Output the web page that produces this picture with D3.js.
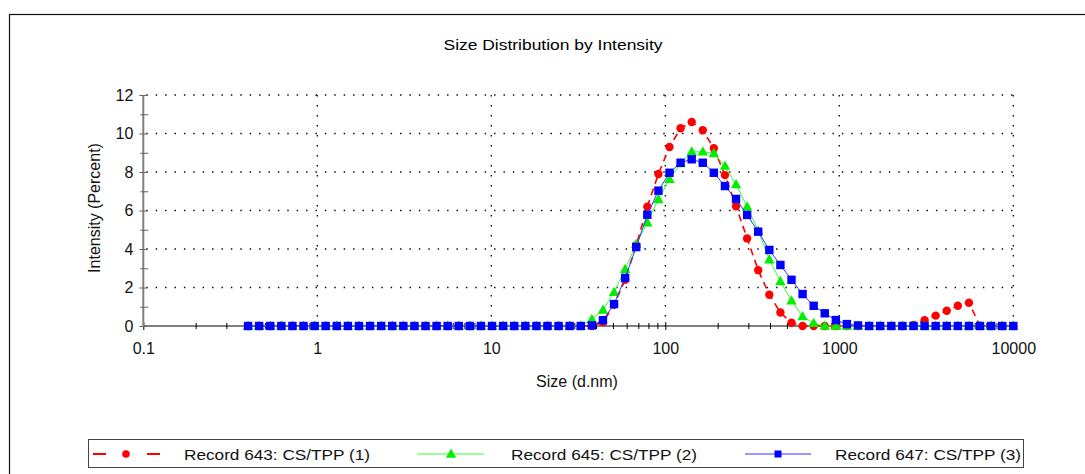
<!DOCTYPE html>
<html>
<head>
<meta charset="utf-8">
<script src="https://cdn.jsdelivr.net/npm/d3@7"></script>
<style>
  body { margin: 0; background: #fff; }
  svg { display: block; font-family: "Liberation Sans", Arial, sans-serif; }
</style>
</head>
<body>
<svg id="chart" width="1085" height="474"></svg>
<script>
// size bins (d.nm)
const sizes = [0.4, 0.4632, 0.5365, 0.6213, 0.7195, 0.8332, 0.9649, 1.117, 1.294, 1.499,
  1.736, 2.01, 2.328, 2.696, 3.122, 3.615, 4.187, 4.849, 5.615, 6.503,
  7.531, 8.721, 10.1, 11.7, 13.54, 15.69, 18.17, 21.04, 24.36, 28.21,
  32.67, 37.84, 43.82, 50.75, 58.77, 68.06, 78.82, 91.28, 105.7, 122.4,
  141.8, 164.2, 190.1, 220.2, 255.0, 295.3, 342.0, 396.1, 458.7, 531.2,
  615.1, 712.4, 825.0, 955.4, 1106, 1281, 1484, 1718, 1990, 2305,
  2669, 3091, 3580, 4145, 4801, 5560, 6439, 7456, 8635, 10000];

const rec643 = [0, 0, 0, 0, 0, 0, 0, 0, 0, 0,
  0, 0, 0, 0, 0, 0, 0, 0, 0, 0,
  0, 0, 0, 0, 0, 0, 0, 0, 0, 0,
  0, 0, 0.2, 1.1, 2.4, 4.2, 6.2, 7.9, 9.3, 10.27,
  10.6, 10.17, 9.23, 7.84, 6.22, 4.55, 2.9, 1.62, 0.7, 0.17,
  0, 0, 0, 0, 0, 0, 0, 0, 0, 0,
  0.05, 0.3, 0.54, 0.79, 1.05, 1.21, 0, 0, 0, 0];

const rec645 = [0, 0, 0, 0, 0, 0, 0, 0, 0, 0,
  0, 0, 0, 0, 0, 0, 0, 0, 0, 0,
  0, 0, 0, 0, 0, 0, 0, 0, 0, 0,
  0, 0.35, 0.83, 1.75, 2.95, 4.25, 5.37, 6.58, 7.62, 8.45,
  9.05, 9.05, 8.97, 8.31, 7.35, 6.2, 4.94, 3.45, 2.32, 1.31,
  0.5, 0.14, 0, 0, 0, 0, 0, 0, 0, 0,
  0, 0, 0, 0, 0, 0, 0, 0, 0, 0];

const rec647 = [0, 0, 0, 0, 0, 0, 0, 0, 0, 0,
  0, 0, 0, 0, 0, 0, 0, 0, 0, 0,
  0, 0, 0, 0, 0, 0, 0, 0, 0, 0,
  0, 0.03, 0.3, 1.14, 2.5, 4.1, 5.78, 7.03, 7.96, 8.48,
  8.66, 8.48, 7.96, 7.27, 6.6, 5.77, 4.9, 3.95, 3.17, 2.4,
  1.66, 1.05, 0.66, 0.31, 0.1, 0.03, 0, 0, 0, 0,
  0, 0, 0, 0, 0, 0, 0, 0, 0, 0];

const seriesNames = ["Record 643: CS/TPP (1)", "Record 645: CS/TPP (2)", "Record 647: CS/TPP (3)"];
const xTicks = [0.1, 1, 10, 100, 1000, 10000];
const xTickLabels = ["0.1", "1", "10", "100", "1000", "10000"];
const xMinorTicks = [0.2, 0.3, 0.4, 0.5, 0.6, 0.7, 0.8, 0.9, 2, 3, 4, 5, 6, 7, 8, 9,
  20, 30, 40, 50, 60, 70, 80, 90, 200, 300, 400, 500, 600, 700, 800, 900,
  2000, 3000, 4000, 5000, 6000, 7000, 8000, 9000];
const yTicks = [0, 2, 4, 6, 8, 10, 12];
const yMinorTicks = [1, 3, 5, 7, 9, 11];

const svg = d3.select("svg#chart");

const x = d3.scaleLog().domain([0.1, 10000]).range([143.3, 1013.3]);
const y = d3.scaleLinear().domain([0, 12]).range([326, 95]);

// outer frame
svg.append("rect")
    .attr("x", 9.5).attr("y", 14.5)
    .attr("width", 1100).attr("height", 500)
    .attr("fill", "none").attr("stroke", "#111").attr("stroke-width", 1.2);

svg.append("text")
    .attr("x", 553).attr("y", 50)
    .attr("text-anchor", "middle")
    .attr("font-size", 14)
    .attr("textLength", 219).attr("lengthAdjust", "spacingAndGlyphs")
    .text("Size Distribution by Intensity");

// dotted grid
const grid = svg.append("g");
grid.selectAll("line.h")
    .data(yTicks.filter(function (d) { return d > 0; }))
    .join("line")
    .attr("class", "h")
    .attr("x1", x(0.1) + 3).attr("x2", x(10000))
    .attr("y1", function (d) { return y(d); })
    .attr("y2", function (d) { return y(d); })
    .attr("stroke", "#000").attr("stroke-width", 1.3)
    .attr("stroke-dasharray", "1.4,8");
grid.selectAll("line.v")
    .data(xTicks.filter(function (d) { return d > 0.1; }))
    .join("line")
    .attr("class", "v")
    .attr("x1", function (d) { return x(d); })
    .attr("x2", function (d) { return x(d); })
    .attr("y1", y(12)).attr("y2", y(0))
    .attr("stroke", "#000").attr("stroke-width", 1.3)
    .attr("stroke-dasharray", "1.4,8.6");

// x axis
const xAxis = svg.append("g")
    .attr("transform", "translate(0," + y(0) + ")")
    .call(d3.axisBottom(x).tickValues(xTicks).tickFormat(function (d, i) { return xTickLabels[i]; }).tickSize(4).tickPadding(13));
xAxis.select(".domain").attr("d", "M" + x(0.1) + ",0H" + x(10000)).attr("stroke", "#000");
xAxis.selectAll(".tick line").attr("y1", -4).attr("y2", 4).attr("stroke", "#000");
xAxis.selectAll(".tick text").attr("font-size", 16).attr("fill", "#111")
    .attr("font-family", "Liberation Sans, Arial, sans-serif");

const xMinor = svg.append("g")
    .attr("transform", "translate(0," + y(0) + ")")
    .call(d3.axisBottom(x).tickValues(xMinorTicks).tickFormat("").tickSize(3));
xMinor.select(".domain").remove();
xMinor.selectAll(".tick line").attr("y1", -3).attr("y2", 3).attr("stroke", "#000");

// y axis
const yAxis = svg.append("g")
    .attr("transform", "translate(" + x(0.1) + ",0)")
    .call(d3.axisLeft(y).tickValues(yTicks).tickSize(4).tickPadding(6));
yAxis.select(".domain").attr("d", "M0," + y(12) + "V" + (y(0) + 1)).attr("stroke", "#808080").attr("stroke-width", 2);
yAxis.selectAll(".tick line").attr("x1", -4).attr("x2", 4).attr("stroke", "#666");
yAxis.selectAll(".tick text").attr("font-size", 16).attr("fill", "#111")
    .attr("font-family", "Liberation Sans, Arial, sans-serif");

const yMinor = svg.append("g")
    .attr("transform", "translate(" + x(0.1) + ",0)")
    .call(d3.axisLeft(y).tickValues(yMinorTicks).tickFormat("").tickSize(3));
yMinor.select(".domain").remove();
yMinor.selectAll(".tick line").attr("x1", -3).attr("x2", 5).attr("stroke", "#666");

svg.append("text")
    .attr("transform", "translate(100,208) rotate(-90)")
    .attr("text-anchor", "middle")
    .attr("font-size", 16).attr("fill", "#111")
    .text("Intensity (Percent)");

svg.append("text")
    .attr("x", 577).attr("y", 387)
    .attr("text-anchor", "middle")
    .attr("font-size", 16).attr("fill", "#111")
    .text("Size (d.nm)");

// series
const line = d3.line()
    .x(function (d) { return x(d[0]); })
    .y(function (d) { return y(d[1]); });

function pairs(vals) {
    return sizes.map(function (s, i) { return [s, vals[i]]; });
}

const triPath = "M0,-5.5L5.2,3.8L-5.2,3.8Z";

// record 643 (red)
const g1 = svg.append("g");
g1.append("path")
    .attr("d", line(pairs(rec643)))
    .attr("fill", "none").attr("stroke", "#ff0000").attr("stroke-width", 1.6)
    .attr("stroke-dasharray", "7,5");
g1.selectAll("circle")
    .data(pairs(rec643))
    .join("circle")
    .attr("cx", function (d) { return x(d[0]); })
    .attr("cy", function (d) { return y(d[1]); })
    .attr("r", 4.2)
    .attr("fill", "#ff0000");

// record 645 (green)
const g2 = svg.append("g");
g2.append("path")
    .attr("d", line(pairs(rec645)))
    .attr("fill", "none").attr("stroke", "#33ff33").attr("stroke-width", 1);
g2.selectAll("path.m")
    .data(pairs(rec645))
    .join("path")
    .attr("class", "m")
    .attr("transform", function (d) { return "translate(" + x(d[0]) + "," + y(d[1]) + ")"; })
    .attr("d", triPath)
    .attr("fill", "#00ee00");

// record 647 (blue)
const g3 = svg.append("g");
g3.append("path")
    .attr("d", line(pairs(rec647)))
    .attr("fill", "none").attr("stroke", "#3333ff").attr("stroke-width", 1);
g3.selectAll("rect")
    .data(pairs(rec647))
    .join("rect")
    .attr("x", function (d) { return x(d[0]) - 4.2; })
    .attr("y", function (d) { return y(d[1]) - 4.2; })
    .attr("width", 8.4).attr("height", 8.4)
    .attr("fill", "#0000ff");

// legend
const leg = svg.append("g");
leg.append("rect")
    .attr("x", 88.5).attr("y", 439.5)
    .attr("width", 935).attr("height", 28)
    .attr("fill", "#fff").attr("stroke", "#444").attr("stroke-width", 1);

const ly = 454;
leg.append("line").attr("x1", 93).attr("x2", 106).attr("y1", ly).attr("y2", ly)
    .attr("stroke", "#ff0000").attr("stroke-width", 2);
leg.append("line").attr("x1", 147).attr("x2", 160).attr("y1", ly).attr("y2", ly)
    .attr("stroke", "#ff0000").attr("stroke-width", 2);
leg.append("circle").attr("cx", 126).attr("cy", ly).attr("r", 3.8).attr("fill", "#ff0000");

leg.append("line").attr("x1", 417).attr("x2", 484).attr("y1", ly).attr("y2", ly)
    .attr("stroke", "#33ff33").attr("stroke-width", 1);
leg.append("path").attr("transform", "translate(451," + ly + ")").attr("d", triPath).attr("fill", "#00ee00");

leg.append("line").attr("x1", 745).attr("x2", 811).attr("y1", ly).attr("y2", ly)
    .attr("stroke", "#3333ff").attr("stroke-width", 1);
leg.append("rect").attr("x", 774.5).attr("y", ly - 3.5).attr("width", 7).attr("height", 7).attr("fill", "#0000ff");

const legX = [184, 511, 835];
leg.selectAll("text")
    .data(seriesNames)
    .join("text")
    .attr("x", function (d, i) { return legX[i]; })
    .attr("y", ly + 5.5)
    .attr("font-size", 15).attr("fill", "#111")
    .attr("textLength", 186).attr("lengthAdjust", "spacingAndGlyphs")
    .text(function (d) { return d; });
</script>
</body>
</html>
